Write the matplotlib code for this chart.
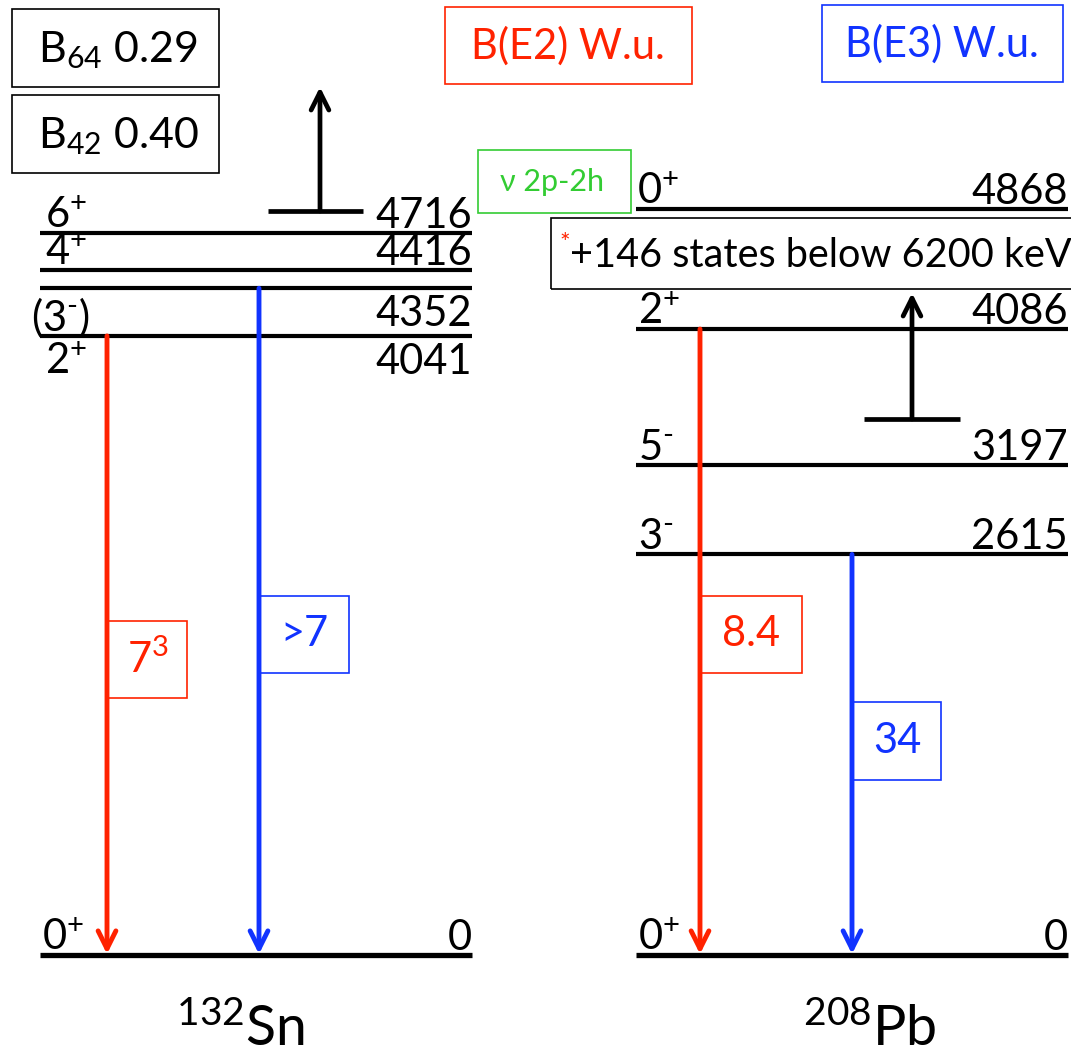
import matplotlib
matplotlib.use("Agg")
from matplotlib import pyplot as plt
from matplotlib.patches import Rectangle

plt.rcParams['font.family'] = ['Lato', 'DejaVu Sans']
plt.rcParams['mathtext.fontset'] = 'custom'
plt.rcParams['mathtext.rm'] = 'Lato'
plt.rcParams['mathtext.it'] = 'Lato'

# level energies (keV) and spins
sn_energy = [4716, 4416, 4352, 4041, 0]
sn_spin = ['6$^{+}$', '4$^{+}$', '(3$^{\\text{-}}$)', '2$^{+}$', '0$^{+}$']
sn_label_below = [False, False, True, True, False]
# 4416 is pushed up a bit so its label fits between neighbours
sn_drawn = [4716, 4470, 4352, 4041, 0]

pb_energy = [4868, 4086, 3197, 2615, 0]
pb_spin = ['0$^{+}$', '2$^{+}$', '5$^{\\text{-}}$', '3$^{\\text{-}}$', '0$^{+}$']

# transitions: (from, to, multipolarity, B value in W.u.)
sn_trans_from = [4041, 4352]
sn_trans_type = ['E2', 'E3']
sn_trans_B = ['7$^{3}$', '>7']
pb_trans_from = [4086, 2615]
pb_trans_type = ['E2', 'E3']
pb_trans_B = ['8.4', '34']

RED = '#ff2200'
BLUE = '#1133ff'
GREEN = '#33cc33'
col = {'E2': RED, 'E3': BLUE}

W, H = 1071, 1059
S = 0.1532       # px per keV
G = 955          # pixel row of the ground state


def Y(p):
    # pixel row -> energy axis
    return (G - p) / S


fig = plt.figure(figsize=(W / 100, H / 100), dpi=100)
ax = fig.add_axes([0, 0, 1, 1])
ax.set_xlim(0, W)
ax.set_ylim(Y(H), Y(0))
ax.axis('off')

FS = 30


def box(x0, y0, x1, y1, ec, lw=1.2):
    ax.add_patch(Rectangle((x0, Y(y1)), x1 - x0, Y(y0) - Y(y1),
                           fill=False, ec=ec, lw=lw, clip_on=False))


def level_scheme(x0, x1, drawn, energy, spin, below, lx):
    for i in range(len(drawn)):
        e = drawn[i]
        lw = 3.8 if energy[i] == 0 else 3.0
        ax.plot([x0, x1], [e, e], color='black', lw=lw, solid_capstyle='butt')
        if below[i]:
            yy, va = e - 7 / S, 'top'
        else:
            yy, va = e + 5 / S, 'baseline'
        ax.text(lx[i], yy, spin[i], fontsize=FS, va=va, ha='left')
        ax.text(x1, yy, str(energy[i]), fontsize=FS, va=va, ha='right')


level_scheme(40, 472, sn_drawn, sn_energy, sn_spin, sn_label_below,
             [45, 45, 31, 45, 42])
level_scheme(636, 1068, pb_energy, pb_energy, pb_spin, [False] * 5,
             [637, 638, 638, 638, 638])


def transition(x, e_from, c, label, by0, by1, bx1):
    ax.annotate('', xy=(x, 0.9 / S), xytext=(x, e_from),
                arrowprops=dict(arrowstyle='->', color=c, lw=3.5,
                                mutation_scale=32, shrinkA=0, shrinkB=0))
    box(x + 1, by0, bx1, by1, c)
    ax.text((x + 1 + bx1) / 2, Y((by0 + by1) / 2), label, color=c,
            fontsize=FS, ha='center', va='center')


sn_x = [107, 259]
sn_box = [(621, 698, 187), (596, 673, 349)]
for i in range(2):
    transition(sn_x[i], sn_trans_from[i], col[sn_trans_type[i]], sn_trans_B[i], *sn_box[i])

pb_x = [700, 852]
pb_box = [(596, 673, 802), (702, 780, 941)]
for i in range(2):
    transition(pb_x[i], pb_trans_from[i], col[pb_trans_type[i]], pb_trans_B[i], *pb_box[i])

# "more states above" markers
for xb0, xb1, xa, yb, ytip in [(268, 363, 320, 211, 87), (864, 960, 912, 419, 293)]:
    ax.plot([xb0, xb1], [Y(yb), Y(yb)], color='black', lw=3.4, solid_capstyle='butt')
    ax.annotate('', xy=(xa, Y(ytip)), xytext=(xa, Y(yb)),
                arrowprops=dict(arrowstyle='->', color='black', lw=3.4,
                                mutation_scale=32, shrinkA=0, shrinkB=0))

# boxes along the top
box(12, 9, 219, 87, 'black')
ax.text(118, Y(50), 'B$_{64}$ 0.29', fontsize=31, ha='center', va='center')
box(12, 95, 219, 173, 'black')
ax.text(118, Y(136), 'B$_{42}$ 0.40', fontsize=31, ha='center', va='center')

box(445, 7, 692, 84, RED)
ax.text(568, Y(46), 'B(E2) W.u.', color=RED, fontsize=FS, ha='center', va='center')
box(822, 5, 1063, 82, BLUE)
ax.text(942, Y(44), 'B(E3) W.u.', color=BLUE, fontsize=FS, ha='center', va='center')

box(478, 150, 631, 213, GREEN)
ax.text(552, Y(182), 'ν 2p-2h', color=GREEN, fontsize=22, ha='center', va='center')

box(551, 218, 1075, 289, 'black')
ax.text(559, Y(244), '*', color=RED, fontsize=18, ha='left', va='center')
ax.text(570, Y(256), '+146 states below 6200 keV', fontsize=28.5, ha='left', va='center')

# nucleus names
ax.text(240, Y(1030), '$^{132}$Sn', fontsize=40, ha='center', va='center')
ax.text(870, Y(1030), '$^{208}$Pb', fontsize=40, ha='center', va='center')

fig.savefig('out.png', dpi=100)
